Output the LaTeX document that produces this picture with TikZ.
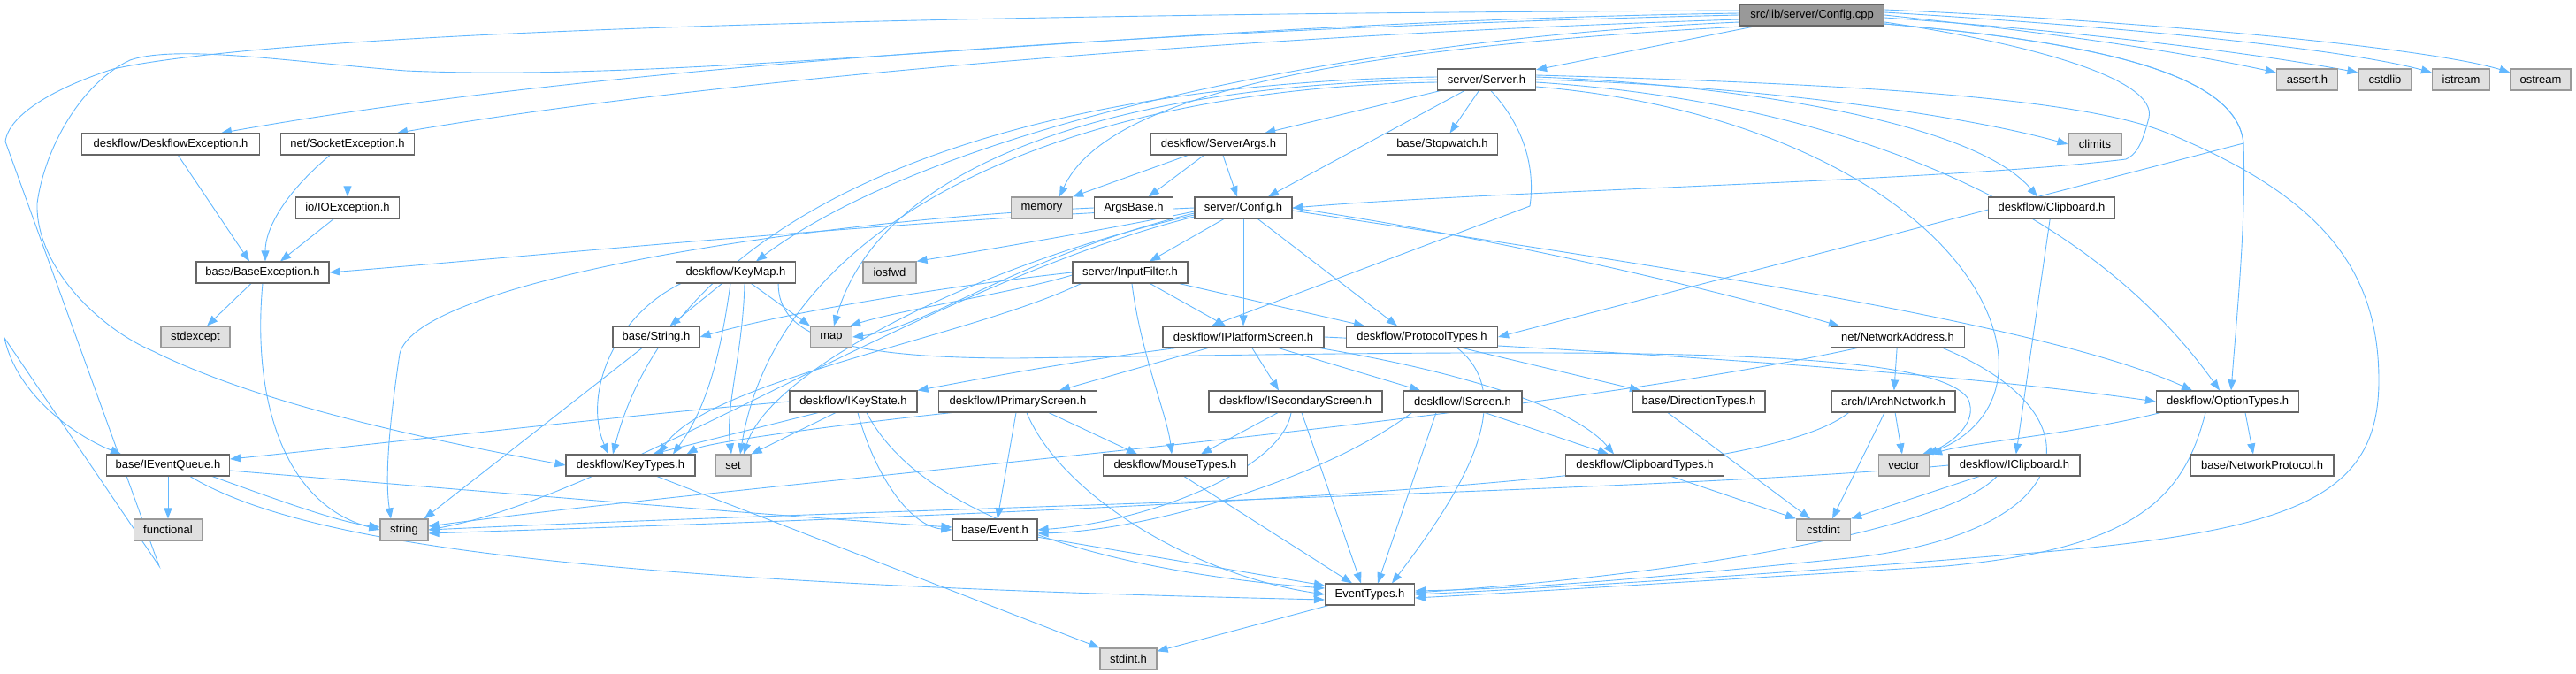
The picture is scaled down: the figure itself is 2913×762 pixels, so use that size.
\documentclass[tikz,border=0pt]{standalone}
\usepackage{fontspec}
\setmainfont{Liberation Sans}
\usetikzlibrary{arrows.meta,calc}
\pgfdeclarelayer{background}
\pgfsetlayers{background,main}
\definecolor{edgec}{HTML}{63B8FF}
\definecolor{bord}{HTML}{666666}
\definecolor{gbord}{HTML}{999999}
\definecolor{gfill}{HTML}{E0E0E0}
\definecolor{rfill}{HTML}{999999}
\begin{document}
\begin{tikzpicture}[x=1pt,y=-1pt,
 box/.style={draw=bord, fill=white, line width=1.2pt, minimum height=24pt, inner sep=0pt, font=\fontsize{13}{15}\selectfont},
 sys/.style={box, draw=gbord, fill=gfill},
 root/.style={box, fill=rfill},
 e/.style={draw=edgec, line width=0.9pt, -{Triangle[length=12pt,width=9pt]}},
]
\useasboundingbox (0,0) rectangle (2913,762);
\node[root, minimum width=163pt] (cpp) at (2049,17) {src/lib/server/Config.cpp};
\node[box, minimum width=111pt] (server) at (1681,90) {server/Server.h};
\node[sys, minimum width=69pt] (assert) at (2609,90) {assert.h};
\node[sys, minimum width=60pt] (cstdlib) at (2697,90) {cstdlib};
\node[sys, minimum width=65pt] (istream) at (2783,90) {istream};
\node[sys, minimum width=68pt] (ostream) at (2873,90) {ostream};
\node[box, minimum width=201pt] (dexc) at (193,163) {deskflow/DeskflowException.h};
\node[box, minimum width=151pt] (sockexc) at (393,163) {net/SocketException.h};
\node[box, minimum width=153pt] (sargs) at (1378,163) {deskflow/ServerArgs.h};
\node[box, minimum width=125pt] (stopw) at (1631,163) {base/Stopwatch.h};
\node[sys, minimum width=60pt] (climits) at (2369,163) {climits};
\node[box, minimum width=117pt] (ioexc) at (393,235) {io/IOException.h};
\node[sys, minimum width=69pt] (memory) at (1178,235) {memory};
\node[box, minimum width=89pt] (argsbase) at (1282,235) {ArgsBase.h};
\node[box, minimum width=110pt] (config) at (1406,235) {server/Config.h};
\node[box, minimum width=143pt] (clipb) at (2320,235) {deskflow/Clipboard.h};
\node[box, minimum width=150pt] (baseexc) at (297,308) {base/BaseException.h};
\node[box, minimum width=135pt] (keymap) at (832,308) {deskflow/KeyMap.h};
\node[sys, minimum width=60pt] (iosfwd) at (1006,308) {iosfwd};
\node[box, minimum width=130pt] (inputf) at (1278,308) {server/InputFilter.h};
\node[sys, minimum width=78pt] (stdexcept) at (221,381) {stdexcept};
\node[box, minimum width=98pt] (stringh) at (742,381) {base/String.h};
\node[sys, minimum width=47pt] (map) at (940,381) {map};
\node[box, minimum width=182pt] (ipscreen) at (1406,381) {deskflow/IPlatformScreen.h};
\node[box, minimum width=171pt] (proto) at (1608,381) {deskflow/ProtocolTypes.h};
\node[box, minimum width=151pt] (netaddr) at (2146,381) {net/NetworkAddress.h};
\node[box, minimum width=144pt] (ikeystate) at (965,454) {deskflow/IKeyState.h};
\node[box, minimum width=179pt] (iprim) at (1151,454) {deskflow/IPrimaryScreen.h};
\node[box, minimum width=196pt] (isec) at (1465,454) {deskflow/ISecondaryScreen.h};
\node[box, minimum width=134pt] (iscreen) at (1654,454) {deskflow/IScreen.h};
\node[box, minimum width=150pt] (dirtypes) at (1921,454) {base/DirectionTypes.h};
\node[box, minimum width=140pt] (iarchnet) at (2141,454) {arch/IArchNetwork.h};
\node[box, minimum width=161pt] (opttypes) at (2519,454) {deskflow/OptionTypes.h};
\node[box, minimum width=139pt] (ieq) at (190,526) {base/IEventQueue.h};
\node[box, minimum width=146pt] (keytypes) at (713,526) {deskflow/KeyTypes.h};
\node[sys, minimum width=40pt] (set) at (829,526) {set};
\node[box, minimum width=163pt] (mouse) at (1329,526) {deskflow/MouseTypes.h};
\node[box, minimum width=179pt] (cliptypes) at (1860,526) {deskflow/ClipboardTypes.h};
\node[sys, minimum width=57pt] (vector) at (2153,526) {vector};
\node[box, minimum width=148pt] (iclip) at (2278,526) {deskflow/IClipboard.h};
\node[box, minimum width=162pt] (netproto) at (2558,526) {base/NetworkProtocol.h};
\node[sys, minimum width=77pt] (functional) at (190,599) {functional};
\node[sys, minimum width=54pt] (string) at (457,599) {string};
\node[box, minimum width=96pt] (event) at (1125,599) {base/Event.h};
\node[sys, minimum width=61pt] (cstdint) at (2062,599) {cstdint};
\node[box, minimum width=101pt] (evtypes) at (1549,672) {EventTypes.h};
\node[sys, minimum width=64pt] (stdint) at (1276,745) {stdint.h};

\begin{pgfonlayer}{background}
% Config.cpp
\draw[e] (cpp) -- (server);
\draw[e] (cpp.east) .. controls (2300,35) and (2450,55) .. ($(assert.west)+(0,-8)$);
\draw[e] ($(cpp.east)+(0,3)$) .. controls (2350,35) and (2550,60) .. ($(cstdlib.west)+(0,-8)$);
\draw[e] ($(cpp.east)+(0,-3)$) .. controls (2400,30) and (2650,55) .. ($(istream.west)+(0,-8)$);
\draw[e] ($(cpp.east)+(0,-6)$) .. controls (2450,25) and (2750,55) .. ($(ostream.west)+(0,-8)$);
\draw[e] (cpp.west) .. controls (1400,30) and (700,70) .. ($(dexc.north)+(57,0)$);
\draw[e] ($(cpp.west)+(0,5)$) .. controls (1400,40) and (800,90) .. ($(sockexc.north)+(56,0)$);
\draw[e] ($(cpp.west)+(0,-5)$) .. controls (1200,15) and (350,30) .. (128,78) .. controls (60,100) and (10,130) .. (6,160) -- (180,640) -- (5,382) .. controls (20,450) and (90,495) .. ($(ieq.north)+(-53,0)$);
\draw[e] ($(cpp.west)+(0,-2)$) .. controls (1300,25) and (800,95) .. (459,80) .. controls (330,70) and (200,50) .. (147,68) .. controls (90,95) and (50,170) .. (42,230) .. controls (40,300) and (110,370) .. (173,397) .. controls (300,460) and (500,500) .. (keytypes.west);
\draw[e] ($(cpp.east)+(0,8)$) .. controls (2300,50) and (2440,90) .. (2430,133) .. controls (2422,165) and (2415,175) .. (2404,180) .. controls (2200,205) and (1700,215) .. (config.east);
\draw[e] ($(cpp.east)+(0,10)$) .. controls (2400,50) and (2530,90) .. (2537,162) .. controls (2540,250) and (2530,350) .. ($(opttypes.north)+(4,0)$);
\draw[e] ($(cpp.east)+(0,10)$) .. controls (2400,50) and (2530,90) .. (2537,162) -- (proto.east);
\draw[e] ($(cpp.west)+(0,8)$) .. controls (1500,45) and (1050,150) .. ($(keymap.north)+(23,0)$);
\draw[e] ($(cpp.south west)+(10,0)$) .. controls (1500,55) and (1250,110) .. ($(memory.north)+(20,0)$);
% Server.h
\draw[e] (server) -- (sargs);
\draw[e] (server) -- (stopw);
\draw[e] ($(server.south)+(-25,0)$) -- ($(config.north)+(28,0)$);
\draw[e] (server.east) .. controls (1950,95) and (2200,125) .. (climits.west);
\draw[e] ($(server.east)+(0,-3)$) .. controls (1950,95) and (2230,135) .. ($(clipb.north)+(-16,0)$);
\draw[e] ($(server.east)+(0,3)$) .. controls (2000,110) and (2330,190) .. ($(opttypes.north)+(-9,0)$);
\draw[e] ($(server.east)+(0,-5)$) .. controls (2100,95) and (2350,110) .. (2450,150) .. controls (2620,220) and (2690,300) .. (2690,430) .. controls (2690,560) and (2600,600) .. (2300,625) .. controls (2000,650) and (1750,665) .. (evtypes.east);
\draw[e] ($(server.east)+(0,8)$) .. controls (2000,120) and (2200,230) .. (2250,360) .. controls (2280,440) and (2240,490) .. ($(vector.north east)+(-3,0)$);
\draw[e] ($(server.south)+(5,0)$) .. controls (1730,150) and (1735,200) .. (1730,233) -- ($(ipscreen.north)+(-36,0)$);
\draw[e] (server.west) .. controls (1300,95) and (1000,170) .. ($(map.north)+(3,0)$);
\draw[e] ($(server.west)+(0,3)$) .. controls (1200,100) and (880,250) .. ($(set.north)+(8,0)$);
\draw[e] ($(server.west)+(0,-3)$) .. controls (1100,95) and (760,250) .. ($(keytypes.north)+(-20,0)$);
% Config.h
\draw[e] (config.west) .. controls (1000,250) and (600,290) .. (baseexc.east);
\draw[e] ($(config.west)+(0,4)$) .. controls (1250,260) and (1100,285) .. (iosfwd.north east);
\draw[e] ($(config.west)+(0,6)$) .. controls (1150,290) and (1050,370) .. (map.east);
\draw[e] ($(config.west)+(0,8)$) .. controls (1100,300) and (870,420) .. ($(set.north)+(12,0)$);
\draw[e] ($(config.west)+(0,10)$) .. controls (1050,320) and (700,560) .. (string.east);
\draw[e] (config) -- (inputf);
\draw[e] (config) -- (ipscreen);
\draw[e] (config) -- ($(proto.north)+(-28,0)$);
\draw[e] (config.east) .. controls (1700,270) and (1950,330) .. ($(netaddr.north west)+(10,0)$);
\draw[e] ($(config.east)+(0,3)$) .. controls (1800,290) and (2300,360) .. ($(opttypes.north)+(-40,0)$);
% InputFilter.h
\draw[e] (inputf) -- ($(ipscreen.north)+(-20,0)$);
\draw[e] ($(inputf.south east)+(-10,0)$) -- ($(proto.north)+(-65,0)$);
\draw[e] ($(inputf.south)+(2,0)$) .. controls (1290,400) and (1320,470) .. ($(mouse.north)+(-4,0)$);
\draw[e] (inputf.west) .. controls (1100,320) and (900,350) .. (stringh.east);
\draw[e] ($(inputf.west)+(0,3)$) .. controls (1150,330) and (1020,350) .. ($(map.north east)+(-3,0)$);
\draw[e] ($(inputf.south west)+(10,0)$) .. controls (1100,380) and (800,430) .. ($(keytypes.north)+(32,0)$);
% KeyMap.h
\draw[e] (keymap) -- (stringh);
\draw[e] (keymap) -- (map.north west);
\draw[e] ($(keymap.south)+(-6,0)$) .. controls (815,400) and (800,460) .. ($(keytypes.north)+(48,0)$);
\draw[e] ($(keymap.south west)+(6,0)$) .. controls (690,360) and (660,450) .. ($(keytypes.north)+(-25,0)$);
\draw[e] ($(keymap.south)+(10,0)$) .. controls (840,400) and (820,460) .. ($(set.north)+(-2,0)$);
\draw[e] ($(keymap.south east)+(-20,0)$) .. controls (880,380) and (950,405) .. (1150,405) .. controls (1800,395) and (2180,390) .. (2225,450) .. controls (2240,480) and (2200,505) .. ($(vector.north east)+(-8,0)$);
% IPlatformScreen.h
\draw[e] ($(ipscreen.south west)+(15,0)$) .. controls (1200,410) and (1100,430) .. (ikeystate.north east);
\draw[e] ($(ipscreen.south)+(-40,0)$) -- ($(iprim.north)+(47,0)$);
\draw[e] ($(ipscreen.south)+(10,0)$) -- ($(isec.north)+(-19,0)$);
\draw[e] ($(ipscreen.south)+(40,0)$) -- ($(iscreen.north)+(-48,0)$);
\draw[e] (ipscreen.east) .. controls (1800,395) and (2200,420) .. (opttypes.west);
\draw[e] ($(ipscreen.south east)+(-5,0)$) .. controls (1650,420) and (1780,460) .. ($(cliptypes.north)+(-35,0)$);
% ProtocolTypes.h
\draw[e] ($(proto.south east)+(-40,0)$) -- ($(dirtypes.north)+(-66,0)$);
\draw[e] ($(proto.south)+(40,0)$) .. controls (1720,450) and (1650,560) .. ($(evtypes.north)+(25,0)$);
% IKeyState.h
\draw[e] (ikeystate.west) .. controls (700,470) and (400,505) .. ($(ieq.east)+(0,-7)$);
\draw[e] ($(ikeystate.south)+(-40,0)$) -- ($(keytypes.north)+(25,0)$);
\draw[e] ($(ikeystate.south)+(-20,0)$) -- (set.north east);
\draw[e] ($(ikeystate.south)+(5,0)$) .. controls (990,540) and (1030,595) .. (event.west);
\draw[e] ($(ikeystate.south)+(15,0)$) .. controls (1050,600) and (1300,650) .. ($(evtypes.west)+(0,-7)$);
% IPrimaryScreen.h
\draw[e] ($(iprim.south west)+(15,0)$) .. controls (950,480) and (800,500) .. ($(keytypes.north east)+(-10,0)$);
\draw[e] ($(iprim.south)+(35,0)$) -- ($(mouse.north)+(-43,0)$);
\draw[e] ($(iprim.south)+(-2,0)$) -- ($(event.north)+(3,0)$);
\draw[e] ($(iprim.south)+(10,0)$) .. controls (1200,560) and (1350,650) .. (evtypes.west);
% ISecondaryScreen.h
\draw[e] ($(isec.south)+(-20,0)$) -- ($(mouse.north)+(29,0)$);
\draw[e] ($(isec.south)+(-5,0)$) .. controls (1450,530) and (1300,590) .. (event.east);
\draw[e] ($(isec.south)+(7,0)$) -- ($(evtypes.north)+(-10,0)$);
% IScreen.h
\draw[e] ($(iscreen.south)+(25,0)$) -- ($(cliptypes.north)+(-41,0)$);
\draw[e] ($(iscreen.south)+(-30,0)$) -- ($(evtypes.north)+(9,0)$);
\draw[e] ($(iscreen.south west)+(10,0)$) .. controls (1500,540) and (1300,600) .. ($(event.east)+(0,4)$);
% NetworkAddress.h
\draw[e] (netaddr) -- (iarchnet);
\draw[e] ($(netaddr.south east)+(-25,0)$) .. controls (2380,470) and (2350,600) .. (2100,630) .. controls (1900,650) and (1750,665) .. ($(evtypes.east)+(0,-4)$);
\draw[e] ($(netaddr.south west)+(30,0)$) .. controls (1700,480) and (900,540) .. ($(string.east)+(0,-4)$);
% IArchNetwork.h
\draw[e] (iarchnet) -- (vector);
\draw[e] ($(iarchnet.south)+(-10,0)$) -- ($(cstdint.north)+(10,0)$);
\draw[e] ($(iarchnet.south west)+(20,0)$) .. controls (2000,540) and (1500,570) .. ($(string.east)+(0,4)$);
% OptionTypes.h
\draw[e] ($(opttypes.south)+(20,0)$) -- ($(netproto.north)+(-10,0)$);
\draw[e] ($(opttypes.south)+(-25,0)$) .. controls (2470,560) and (2420,620) .. (2200,640) .. controls (1950,655) and (1750,668) .. ($(evtypes.east)+(0,4)$);
\draw[e] ($(opttypes.south west)+(5,0)$) .. controls (2350,490) and (2230,500) .. ($(vector.north east)+(2,0)$);
% cstdint users
\draw[e] ($(dirtypes.south)+(-35,0)$) -- ($(cstdint.north)+(-15,0)$);
\draw[e] ($(cliptypes.south)+(30,0)$) -- (cstdint.north west);
\draw[e] ($(iclip.south)+(-40,0)$) -- (cstdint.north east);
\draw[e] ($(iclip.south)+(-20,0)$) .. controls (2200,600) and (1900,650) .. ($(evtypes.east)+(0,-2)$);
\draw[e] (iclip.west) .. controls (1900,555) and (1000,575) .. (string.east);
\draw[e] (clipb) -- (iclip);
% lower left
\draw[e] (ieq) -- (functional);
\draw[e] ($(ieq.south east)+(-20,0)$) .. controls (300,560) and (380,590) .. ($(string.west)+(0,-3)$);
\draw[e] ($(ieq.east)+(0,6)$) .. controls (600,560) and (900,585) .. ($(event.west)+(0,-3)$);
\draw[e] ($(ieq.south)+(25,0)$) .. controls (350,620) and (700,660) .. ($(evtypes.west)+(0,6)$);
\draw[e] (event) -- ($(evtypes.west)+(0,-10)$);
\draw[e] (evtypes) -- (stdint);
\draw[e] ($(keytypes.south)+(30,0)$) -- (stdint.north west);
\draw[e] ($(mouse.south)+(10,0)$) -- ($(evtypes.north)+(-20,0)$);
\draw[e] (stringh) -- ($(string.north east)+(-5,0)$);
\draw[e] (dexc) -- ($(baseexc.north)+(-15,0)$);
\draw[e] ($(sockexc.south)+(-20,0)$) .. controls (320,220) and (300,260) .. ($(baseexc.north)+(3,0)$);
\draw[e] (ioexc) -- ($(baseexc.north)+(20,0)$);
\draw[e] (sockexc) -- (ioexc);
\draw[e] (baseexc) -- (stdexcept);
\draw[e] (baseexc.south) .. controls (285,450) and (320,570) .. (string.west);
\draw[e] (sargs) -- (memory.north east);
\draw[e] (sargs) -- (argsbase);
\draw[e] ($(sargs.south)+(5,0)$) -- ($(config.north)+(-7,0)$);
\draw[e] (argsbase.west) .. controls (900,250) and (470,320) .. (452,400) .. controls (440,480) and (435,540) .. ($(string.north)+(-15,0)$);
\end{pgfonlayer}
\end{tikzpicture}
\end{document}
